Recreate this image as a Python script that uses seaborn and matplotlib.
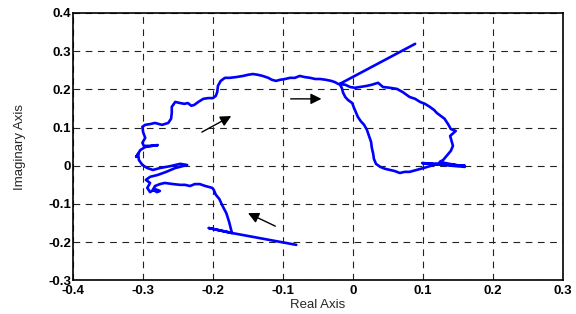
import matplotlib
matplotlib.use("Agg")
import matplotlib.pyplot as plt
import numpy as np
import pandas as pd
import seaborn as sns

sns.set_theme(style="white")
plt.rcParams["font.family"] = ["Liberation Sans", "DejaVu Sans"]

# trajectory (real part, imaginary part)
REAL = [
    -0.081, -0.173, -0.206, -0.173,
    -0.177, -0.181, -0.187, -0.191, -0.196, -0.199, -0.201,
    -0.211, -0.219, -0.226, -0.233, -0.240, -0.247, -0.257, -0.269, -0.276, -0.283,
    -0.286, -0.280, -0.276, -0.283, -0.290, -0.294, -0.290,
    -0.296, -0.290, -0.279, -0.267, -0.254, -0.243, -0.237, -0.247, -0.261, -0.276,
    -0.286, -0.294, -0.301, -0.306, -0.307, -0.310, -0.304, -0.297, -0.287, -0.279,
    -0.290, -0.299, -0.301, -0.297, -0.300, -0.301, -0.297, -0.290, -0.283, -0.273,
    -0.264, -0.260, -0.259, -0.259, -0.254, -0.247, -0.241, -0.236, -0.231, -0.227,
    -0.221, -0.214, -0.207, -0.200, -0.196, -0.194, -0.193, -0.189, -0.183,
    -0.176, -0.167, -0.157, -0.150, -0.143, -0.136, -0.129, -0.121, -0.116, -0.110,
    -0.104, -0.097, -0.090, -0.083, -0.076, -0.069, -0.061, -0.054, -0.047, -0.039,
    -0.031, -0.026, -0.021,
    -0.011, -0.004, 0.003, 0.010, 0.020, 0.027, 0.036, 0.043, 0.053, 0.063,
    0.071, 0.081, 0.089, 0.096, 0.103, 0.110, 0.116, 0.120, 0.126, 0.131,
    0.136, 0.140, 0.147, 0.139, 0.141, 0.143, 0.140, 0.134, 0.129, 0.124,
    0.160, 0.099, 0.160, 0.119, 0.110, 0.101, 0.091, 0.081, 0.074, 0.067,
    0.060, 0.053, 0.046, 0.039, 0.033, 0.030, 0.029, 0.027, 0.026, 0.023,
    0.020, 0.016, 0.011, 0.007, 0.004, 0.001, -0.001, -0.007, -0.011, -0.014,
    -0.016, -0.019, 0.089,
]
IMAG = [
    -0.207, -0.176, -0.163, -0.176,
    -0.147, -0.124, -0.103, -0.087, -0.076, -0.063, -0.058,
    -0.053, -0.048, -0.048, -0.053, -0.050, -0.050, -0.048, -0.045, -0.048, -0.053,
    -0.063, -0.069, -0.066, -0.061, -0.069, -0.058, -0.045,
    -0.037, -0.029, -0.024, -0.016, -0.006, -0.001, 0.002, 0.005, -0.001, -0.006,
    -0.011, -0.006, 0.002, 0.015, 0.031, 0.023, 0.041, 0.049, 0.052, 0.054,
    0.052, 0.052, 0.060, 0.073, 0.088, 0.102, 0.107, 0.109, 0.112, 0.107,
    0.112, 0.123, 0.138, 0.154, 0.167, 0.164, 0.162, 0.164, 0.157, 0.159,
    0.167, 0.175, 0.177, 0.177, 0.183, 0.193, 0.209, 0.222, 0.230,
    0.230, 0.232, 0.235, 0.238, 0.240, 0.238, 0.235, 0.230, 0.225, 0.222,
    0.225, 0.227, 0.230, 0.230, 0.235, 0.232, 0.230, 0.227, 0.227, 0.225,
    0.222, 0.219, 0.214,
    0.212, 0.206, 0.204, 0.206, 0.209, 0.212, 0.217, 0.206, 0.204, 0.201,
    0.193, 0.180, 0.175, 0.167, 0.162, 0.154, 0.146, 0.138, 0.130, 0.123,
    0.109, 0.096, 0.091, 0.078, 0.065, 0.052, 0.039, 0.026, 0.015, 0.010,
    -0.003, 0.007, 0.000, 0.005, -0.001, -0.006, -0.011, -0.016, -0.016, -0.019,
    -0.014, -0.011, -0.008, -0.003, 0.005, 0.018, 0.031, 0.047, 0.062, 0.078,
    0.094, 0.107, 0.117, 0.128, 0.141, 0.154, 0.164, 0.172, 0.180, 0.191,
    0.204, 0.214, 0.319,
]

# direction arrows: (tail, tip)
ARROWS = [
    ((-0.111, -0.158), (-0.150, -0.124)),
    ((-0.216, 0.088), (-0.174, 0.130)),
    ((-0.089, 0.175), (-0.045, 0.175)),
]

X_TICKS = [-0.4, -0.3, -0.2, -0.1, 0, 0.1, 0.2, 0.3]
Y_TICKS = [-0.3, -0.2, -0.1, 0, 0.1, 0.2, 0.3, 0.4]
X_LABELS = ["-0.4", "-0.3", "-0.2", "-0.1", "0", "0.1", "0.2", "0.3"]
Y_LABELS = ["-0.3", "-0.2", "-0.1", "0", "0.1", "0.2", "0.3", "0.4"]


def main() -> None:
    df = pd.DataFrame({"real": REAL, "imag": IMAG})

    fig = plt.figure(figsize=(5.76, 3.14), dpi=100)
    ax = fig.add_axes([0.127, 0.107, 0.85, 0.852])

    sns.lineplot(data=df, x="real", y="imag", sort=False, estimator=None,
                 color="#0000ff", linewidth=1.9, ax=ax)

    for tail, tip in ARROWS:
        ax.annotate("", xy=tip, xytext=tail,
                    arrowprops=dict(arrowstyle="-|>", color="black", lw=1.0,
                                    mutation_scale=16, shrinkA=0, shrinkB=0))

    ax.set_xlim(-0.4, 0.3)
    ax.set_ylim(-0.3, 0.4)
    ax.set_xticks(X_TICKS)
    ax.set_yticks(Y_TICKS)
    ax.set_xticklabels(X_LABELS)
    ax.set_yticklabels(Y_LABELS)
    ax.grid(True, color="#222222", linestyle=(0, (6, 5)), linewidth=0.8)
    ax.tick_params(direction="in", length=3, width=0.8, labelsize=9.5, colors="black")
    ax.tick_params(axis="x", pad=3.5)
    ax.tick_params(axis="y", pad=1.5)
    for lbl in ax.get_xticklabels() + ax.get_yticklabels():
        lbl.set_fontweight("bold")
    for spine in ax.spines.values():
        spine.set_color("black")
        spine.set_linewidth(1.2)

    ax.set_xlabel("Real Axis", fontsize=9.5, labelpad=1)
    ax.set_ylabel("Imaginary Axis", fontsize=9.5, labelpad=16)

    fig.savefig("out.png", dpi=100, facecolor="white")
    plt.close(fig)


if __name__ == "__main__":
    main()
